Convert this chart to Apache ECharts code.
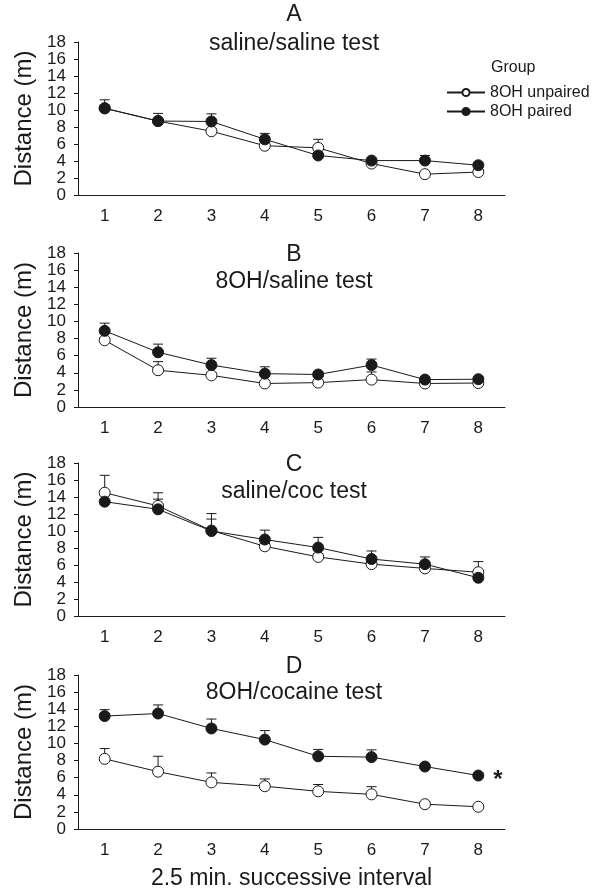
<!DOCTYPE html>
<html>
<head>
<meta charset="utf-8">
<script src="https://cdn.jsdelivr.net/npm/echarts@6/dist/echarts.min.js"></script>
<style>
  html, body { margin: 0; padding: 0; background: #fff; }
  #chart { width: 595px; height: 892px; }
</style>
</head>
<body>
<div id="chart"></div>
<script>
const categories = ['1', '2', '3', '4', '5', '6', '7', '8']
const yTicks = { min: 0, max: 18, interval: 2 }

// panel A: saline/saline test
const unpairedA = [10.2, 8.7, 7.5, 5.8, 5.55, 3.7, 2.45, 2.7]
const unpairedErrA = [0.4, 0.3, 0.3, 0.3, 1.0, 0.3, 0.3, 0.3]
const pairedA = [10.2, 8.7, 8.65, 6.55, 4.65, 4.05, 4.05, 3.5]
const pairedErrA = [1.0, 0.9, 0.9, 0.7, 0.3, 0.3, 0.6, 0.3]

// panel B: 8OH/saline test
const unpairedB = [7.8, 4.3, 3.7, 2.75, 2.85, 3.2, 2.75, 2.8]
const unpairedErrB = [0.3, 1.0, 0.3, 0.3, 0.3, 0.9, 0.3, 0.3]
const pairedB = [8.9, 6.4, 4.9, 3.9, 3.8, 4.9, 3.2, 3.25]
const pairedErrB = [0.9, 0.95, 0.8, 0.8, 0.3, 0.7, 0.3, 0.3]

// panel C: saline/coc test
const unpairedC = [14.5, 12.95, 10.05, 8.2, 6.95, 6.1, 5.6, 5.15]
const unpairedErrC = [2.05, 1.55, 2.0, 0.6, 0.4, 0.4, 0.3, 1.25]
const pairedC = [13.45, 12.55, 10.0, 9.0, 8.05, 6.7, 6.1, 4.5]
const pairedErrC = [0.7, 1.2, 1.4, 1.1, 1.2, 0.95, 0.85, 0.3]

// panel D: 8OH/cocaine test
const unpairedD = [8.2, 6.7, 5.45, 5.0, 4.4, 4.05, 2.9, 2.6]
const unpairedErrD = [1.2, 1.8, 1.1, 0.85, 0.8, 0.9, 0.3, 0.3]
const pairedD = [13.2, 13.5, 11.75, 10.45, 8.5, 8.4, 7.3, 6.25]
const pairedErrD = [0.75, 1.0, 1.1, 1.05, 0.8, 0.85, 0.3, 0.3]

const panels = [
  { letter: 'A', sub: 'saline/saline test', unpaired: unpairedA, uErr: unpairedErrA, paired: pairedA, pErr: pairedErrA },
  { letter: 'B', sub: '8OH/saline test', unpaired: unpairedB, uErr: unpairedErrB, paired: pairedB, pErr: pairedErrB },
  { letter: 'C', sub: 'saline/coc test', unpaired: unpairedC, uErr: unpairedErrC, paired: pairedC, pErr: pairedErrC },
  { letter: 'D', sub: '8OH/cocaine test', unpaired: unpairedD, uErr: unpairedErrD, paired: pairedD, pErr: pairedErrD }
]

const FONT = '"Liberation Sans", Arial, sans-serif'
const INK = '#1a1a1a'
const gridTops = [42, 253, 463, 675]
const gridHeights = [153, 154, 153, 154]
const letterTops = [3.5, 243.5, 453.5, 655.5]
const subTops = [32.5, 270, 480.5, 681.5]

function errRenderItem(params, api) {
  const x = api.value(0)
  const y = api.value(1)
  const e = api.value(2)
  const p0 = api.coord([x, y])
  const p1 = api.coord([x, y + e])
  const style = { stroke: INK, lineWidth: 1 }
  return {
    type: 'group',
    children: [
      { type: 'line', shape: { x1: p0[0], y1: p0[1], x2: p1[0], y2: p1[1] }, style: style },
      { type: 'line', shape: { x1: p1[0] - 5, y1: p1[1], x2: p1[0] + 5, y2: p1[1] }, style: style }
    ]
  }
}

const chart = echarts.init(document.getElementById('chart'))

const titles = []
const grids = []
const xAxes = []
const yAxes = []
const series = []

panels.forEach(function(p, i) {
  titles.push({
    text: p.letter, left: 294, top: letterTops[i], textAlign: 'center', padding: 0,
    textStyle: { fontFamily: FONT, fontSize: 23, lineHeight: 23, fontWeight: 'normal', color: INK }
  })
  titles.push({
    text: p.sub, left: 294, top: subTops[i], textAlign: 'center', padding: 0,
    textStyle: { fontFamily: FONT, fontSize: 23, lineHeight: 23, fontWeight: 'normal', color: INK }
  })
  grids.push({ left: 78, width: 427, top: gridTops[i], height: gridHeights[i] })
  xAxes.push({
    type: 'category',
    gridIndex: i,
    data: categories,
    boundaryGap: true,
    axisLine: { lineStyle: { color: INK, width: 1 } },
    axisTick: { alignWithLabel: true, length: 5, lineStyle: { color: INK } },
    axisLabel: { fontFamily: FONT, fontSize: 17, color: INK, margin: 13 },
    name: i === 3 ? '2.5 min. successive interval' : '',
    nameLocation: 'middle',
    nameGap: 38,
    nameTextStyle: { fontFamily: FONT, fontSize: 23, color: INK }
  })
  yAxes.push({
    type: 'value',
    gridIndex: i,
    min: yTicks.min,
    max: yTicks.max,
    interval: yTicks.interval,
    axisLine: { show: true, lineStyle: { color: INK, width: 1 } },
    axisTick: { show: true, length: 4, lineStyle: { color: INK } },
    axisLabel: { fontFamily: FONT, fontSize: 17, color: INK, margin: 12 },
    splitLine: { show: false },
    name: 'Distance (m)',
    nameLocation: 'middle',
    nameGap: 40,
    nameTextStyle: { fontFamily: FONT, fontSize: 24, color: INK }
  })

  series.push({
    type: 'custom', xAxisIndex: i, yAxisIndex: i, z: 1,
    renderItem: errRenderItem,
    encode: { x: 0, y: 1 },
    data: p.unpaired.map(function(v, j) { return [j, v, p.uErr[j]] })
  })
  series.push({
    type: 'custom', xAxisIndex: i, yAxisIndex: i, z: 1,
    renderItem: errRenderItem,
    encode: { x: 0, y: 1 },
    data: p.paired.map(function(v, j) { return [j, v, p.pErr[j]] })
  })
  series.push({
    name: '8OH unpaired', type: 'line', xAxisIndex: i, yAxisIndex: i, z: 2,
    symbol: 'circle', symbolSize: 11,
    itemStyle: { color: '#fff', borderColor: INK, borderWidth: 1 },
    lineStyle: { color: INK, width: 1 },
    data: p.unpaired
  })
  series.push({
    name: '8OH paired', type: 'line', xAxisIndex: i, yAxisIndex: i, z: 3,
    symbol: 'circle', symbolSize: 11,
    itemStyle: { color: INK, borderColor: INK, borderWidth: 1 },
    lineStyle: { color: INK, width: 1 },
    data: p.paired.map(function(v, j) {
      if (i === 3 && j === 7) {
        return {
          value: v,
          label: { show: true, formatter: '*', position: 'right', distance: 9, offset: [0, 5],
            fontFamily: FONT, fontSize: 24, fontWeight: 'bold', color: INK }
        }
      }
      return v
    })
  })
})

titles.push({
  text: 'Group', left: 491, top: 60, padding: 0,
  textStyle: { fontFamily: FONT, fontSize: 16, lineHeight: 16, fontWeight: 'normal', color: INK }
})

chart.setOption({
  animation: false,
  backgroundColor: '#fff',
  title: titles,
  legend: {
    data: ['8OH unpaired', '8OH paired'],
    orient: 'vertical',
    left: 446,
    top: 84.5,
    padding: 0,
    itemWidth: 38,
    itemHeight: 9,
    itemGap: 3,
    textStyle: { fontFamily: FONT, fontSize: 16, lineHeight: 16, color: INK }
  },
  grid: grids,
  xAxis: xAxes,
  yAxis: yAxes,
  series: series
})
</script>
</body>
</html>
